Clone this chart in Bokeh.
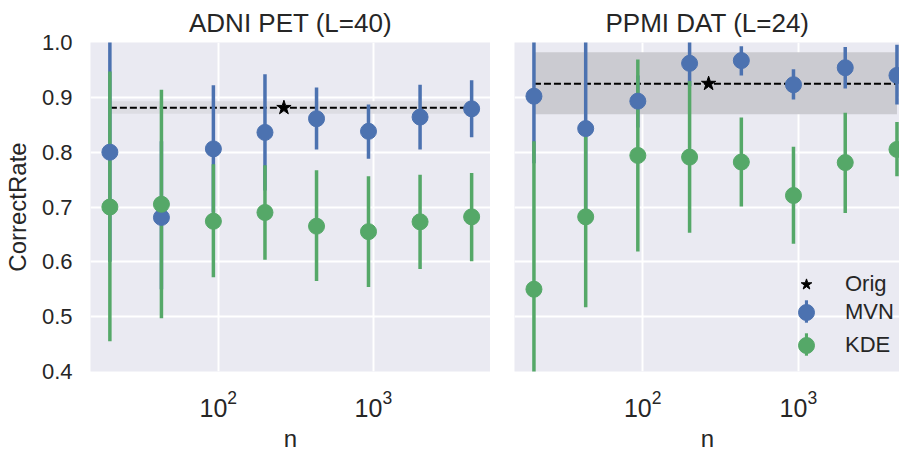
import numpy as np
from bokeh.plotting import figure
from bokeh.layouts import row
from bokeh.models import (Range1d, FixedTicker, PrintfTickFormatter, LogTickFormatter,
                          Legend, LegendItem)
from bokeh.embed import file_html
from bokeh.resources import INLINE

# ---------------- data ----------------
n = [20, 43, 93, 200, 430, 930, 2000, 4300]
orig_n = [265]

adni_mvn = [0.800, 0.681, 0.806, 0.836, 0.861, 0.838, 0.864, 0.879]
adni_mvn_lo = [0.600, 0.550, 0.690, 0.730, 0.805, 0.788, 0.805, 0.827]
adni_mvn_hi = [1.020, 0.820, 0.922, 0.942, 0.918, 0.887, 0.923, 0.931]
adni_kde = [0.700, 0.705, 0.674, 0.690, 0.665, 0.655, 0.673, 0.682]
adni_kde_lo = [0.455, 0.497, 0.572, 0.604, 0.565, 0.554, 0.587, 0.601]
adni_kde_hi = [0.947, 0.914, 0.778, 0.776, 0.767, 0.756, 0.759, 0.762]
adni_orig = [0.881]
adni_orig_lo = [0.870]
adni_orig_hi = [0.893]

ppmi_mvn = [0.902, 0.843, 0.893, 0.962, 0.967, 0.923, 0.954, 0.940]
ppmi_mvn_lo = [0.780, 0.680, 0.845, 0.920, 0.940, 0.896, 0.916, 0.887]
ppmi_mvn_hi = [1.020, 1.020, 0.940, 1.020, 0.993, 0.951, 0.992, 0.996]
ppmi_kde = [0.550, 0.682, 0.794, 0.791, 0.782, 0.721, 0.781, 0.805]
ppmi_kde_lo = [0.350, 0.517, 0.619, 0.653, 0.701, 0.633, 0.689, 0.756]
ppmi_kde_hi = [0.820, 0.840, 0.969, 0.930, 0.863, 0.810, 0.872, 0.855]
ppmi_orig = [0.925]
ppmi_orig_lo = [0.869]
ppmi_orig_hi = [0.982]

y_ticks = [0.4, 0.5, 0.6, 0.7, 0.8, 0.9, 1.0]
x_ticks = [100, 1000]

# ---------------- style ----------------
BG = "#EAEAF2"
BLUE = "#4C72B0"
GREEN = "#55A868"
TXT = "#262626"
FONT = "Liberation Sans"


def errbar(p, lo, hi, color):
    lo = np.asarray(lo)
    hi = np.asarray(hi)
    return p.rect(x=n, y=(lo + hi) / 2, width=3.5, width_units="screen",
                  height=hi - lo, fill_color=color, line_color=None)


def panel(title, mvn, mvn_lo, mvn_hi, kde, kde_lo, kde_hi, orig, orig_lo, orig_hi,
          band_color, x_end, frame_w, left_border, show_y):
    p = figure(x_axis_type="log", x_range=Range1d(15, x_end), y_range=Range1d(0.4, 1.0),
               frame_width=frame_w, frame_height=329,
               min_border_left=left_border, min_border_right=0,
               min_border_top=40, min_border_bottom=67,
               output_backend="svg", toolbar_location=None, title=title)
    p.background_fill_color = BG
    p.border_fill_color = "white"
    p.outline_line_color = None

    p.title.text_font = FONT
    p.title.text_font_size = "26px"
    p.title.text_font_style = "normal"
    p.title.text_color = TXT
    p.title.align = "center"

    p.xaxis.ticker = FixedTicker(ticks=x_ticks, minor_ticks=[])
    p.xaxis.formatter = LogTickFormatter()
    p.xgrid.ticker = FixedTicker(ticks=x_ticks, minor_ticks=[])
    p.yaxis.ticker = FixedTicker(ticks=y_ticks, minor_ticks=[])
    p.ygrid.ticker = FixedTicker(ticks=y_ticks, minor_ticks=[])
    p.yaxis.formatter = PrintfTickFormatter(format="%.1f")

    for ax in (p.xaxis[0], p.yaxis[0]):
        ax.axis_line_color = None
        ax.major_tick_line_color = None
        ax.minor_tick_line_color = None
        ax.major_label_text_font = FONT
        ax.major_label_text_color = TXT
        ax.axis_label_text_font = FONT
        ax.axis_label_text_font_size = "24px"
        ax.axis_label_text_font_style = "normal"
        ax.axis_label_text_color = TXT
    p.yaxis.major_label_text_font_size = "22px"
    p.yaxis.major_label_standoff = 12
    p.xaxis.major_label_text_font_size = "25px"
    p.xaxis.major_label_standoff = 12

    p.xaxis.axis_label = "n"
    p.xaxis.axis_label_standoff = 5
    p.yaxis.axis_label = "CorrectRate"
    p.yaxis.axis_label_standoff = 8
    p.yaxis.visible = show_y

    for g in (p.xgrid[0], p.ygrid[0]):
        g.grid_line_color = "white"
        g.grid_line_width = 2

    # original-data band + mean
    p.varea(x=[n[0], n[-1]], y1=orig_lo * 2, y2=orig_hi * 2, fill_color=band_color)
    p.line(x=[n[0], n[-1]], y=orig * 2, line_color="black", line_width=2, line_dash="7 3")

    # error bars (bars first, then markers on top)
    mbar = errbar(p, mvn_lo, mvn_hi, BLUE)
    kbar = errbar(p, kde_lo, kde_hi, GREEN)
    star = p.scatter(x=orig_n, y=orig, marker="star", size=15, color="black")
    mdot = p.scatter(x=n, y=mvn, size=16, color=BLUE)
    kdot = p.scatter(x=n, y=kde, size=16, color=GREEN)
    return p, star, mbar, mdot, kbar, kdot


p1, *_ = panel("ADNI PET (L=40)", adni_mvn, adni_mvn_lo, adni_mvn_hi,
               adni_kde, adni_kde_lo, adni_kde_hi,
               adni_orig, adni_orig_lo, adni_orig_hi,
               "#DDDDE3", 5690, 400, 81, True)
p2, star, mbar, mdot, kbar, kdot = panel("PPMI DAT (L=24)", ppmi_mvn, ppmi_mvn_lo, ppmi_mvn_hi,
                                         ppmi_kde, ppmi_kde_lo, ppmi_kde_hi,
                                         ppmi_orig, ppmi_orig_lo, ppmi_orig_hi,
                                         "#CBCBD1", 4530, 386, 24, False)


def one_legend(label, renderers, loc, gw, gh, standoff, fs="22px"):
    return Legend(items=[LegendItem(label=label, renderers=renderers)],
                  location=loc, orientation="vertical",
                  glyph_width=gw, glyph_height=gh, spacing=0,
                  label_standoff=standoff, padding=0, margin=0,
                  background_fill_alpha=0, border_line_color=None,
                  label_text_font=FONT, label_text_font_size=fs,
                  label_text_color=TXT)


# vertical error-bar ticks of the legend (drawn first, dots over them)
p2.add_layout(one_legend(" ", [mbar], (290, 46), 4, 28, 0, "2px"), "center")
p2.add_layout(one_legend(" ", [kbar], (290, 13), 4, 28, 0, "2px"), "center")
p2.add_layout(one_legend("Orig", [star], (278, 73), 28, 28, 25), "center")
p2.add_layout(one_legend("MVN", [mdot], (272, 39), 40, 40, 19), "center")
p2.add_layout(one_legend("KDE", [kdot], (272, 6), 40, 40, 19), "center")

layout = row(p1, p2)
open("out.html", "w").write(file_html(layout, INLINE))
